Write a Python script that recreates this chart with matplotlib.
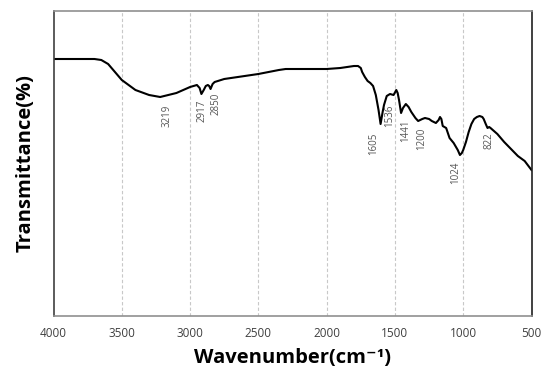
import matplotlib
matplotlib.use("Agg")
import matplotlib.pyplot as plt
import numpy as np

# Wavenumber (cm-1) and transmittance (arbitrary %)
wavenumber = [4000, 3700, 3650, 3600, 3500, 3400, 3300, 3219, 3100, 3000, 2950, 2930,
              2917, 2900, 2885, 2870, 2860, 2850, 2835, 2820, 2750, 2600, 2500, 2350,
              2300, 2150, 2000, 1900, 1800, 1770, 1750, 1740, 1720, 1700, 1680, 1660,
              1640, 1620, 1605, 1590, 1580, 1560, 1536, 1510, 1490, 1480, 1470, 1455,
              1441, 1420, 1400, 1380, 1350, 1330, 1300, 1280, 1250, 1230, 1200, 1180,
              1170, 1160, 1150, 1125, 1100, 1070, 1040, 1024, 1010, 1000, 980, 960,
              940, 920, 900, 880, 860, 850, 835, 822, 810, 800, 750, 700, 650, 600,
              550, 500]
pixel_y = [59, 59, 60, 64, 80, 90, 95, 97, 93, 87, 85, 88,
           94, 90, 86, 85, 86, 89, 84, 82, 79, 76, 74, 70,
           69, 69, 69, 68, 66, 66, 68, 72, 77, 81, 83, 86,
           95, 110, 124, 112, 105, 96, 94, 95, 90, 93, 100, 113,
           108, 104, 107, 112, 118, 121, 119, 118, 119, 121, 123, 120,
           117, 119, 126, 128, 138, 143, 150, 155, 153, 150, 142, 132,
           124, 119, 117, 116, 117, 119, 124, 128, 127, 128, 134, 142, 149, 156,
           161, 170]
transmittance = [(316 - p) / 305 * 100 for p in pixel_y]

peak_labels = ["3219", "2917", "2850", "1605", "1536", "1441", "1200", "1024", "822"]
peak_x = [3219, 2917, 2850, 1605, 1536, 1441, 1200, 1024, 822]
label_x_px = [167, 202, 216, 374, 390, 406, 422, 456, 489]
label_top_px = [105, 100, 93, 133, 105, 120, 128, 162, 132]

fig = plt.figure(figsize=(5.43, 3.77), dpi=100)
ax = fig.add_axes([53.5 / 543, 1 - 316 / 377, (531.5 - 53.5) / 543, (316 - 11) / 377])

ax.plot(wavenumber, transmittance, color="black", lw=1.5, solid_joinstyle="round")

ax.set_xlim(4000, 500)
ax.set_ylim(0, 100)
ax.set_xticks([4000, 3500, 3000, 2500, 2000, 1500, 1000, 500])
ax.set_yticks([])
for gx in [3500, 3000, 2500, 2000, 1500, 1000]:
    ax.axvline(gx, color="#c8c8c8", lw=0.8, ls=(0, (3, 2)), zorder=0)

ax.spines["left"].set_color("#404040")
ax.spines["right"].set_color("#202020")
ax.spines["top"].set_color("#909090")
ax.spines["bottom"].set_color("#909090")
for s in ax.spines.values():
    s.set_linewidth(1.2)
ax.tick_params(axis="x", length=0, pad=8, labelsize=8.5, labelcolor="#404040")
for lbl in ax.get_xticklabels():
    lbl.set_family("Open Sans")

for lab, x, lx, ty in zip(peak_labels, peak_x, label_x_px, label_top_px):
    xd = 4000 - (lx - 53.5) / 478 * 3500
    yd = (316 - ty) / 305 * 100
    ax.text(xd, yd, lab, rotation=90, ha="center", va="top", fontsize=7,
            color="#555555", family="Open Sans")

ax.set_xlabel("Wavenumber(cm\u207b\u00b9)", fontsize=14.5, fontweight="bold",
              family=["Open Sans", "DejaVu Sans"], labelpad=6)
ax.set_ylabel("Transmittance(%)", fontsize=14.5, fontweight="bold",
              family="Open Sans", labelpad=13)

fig.savefig("out.png", dpi=100)
